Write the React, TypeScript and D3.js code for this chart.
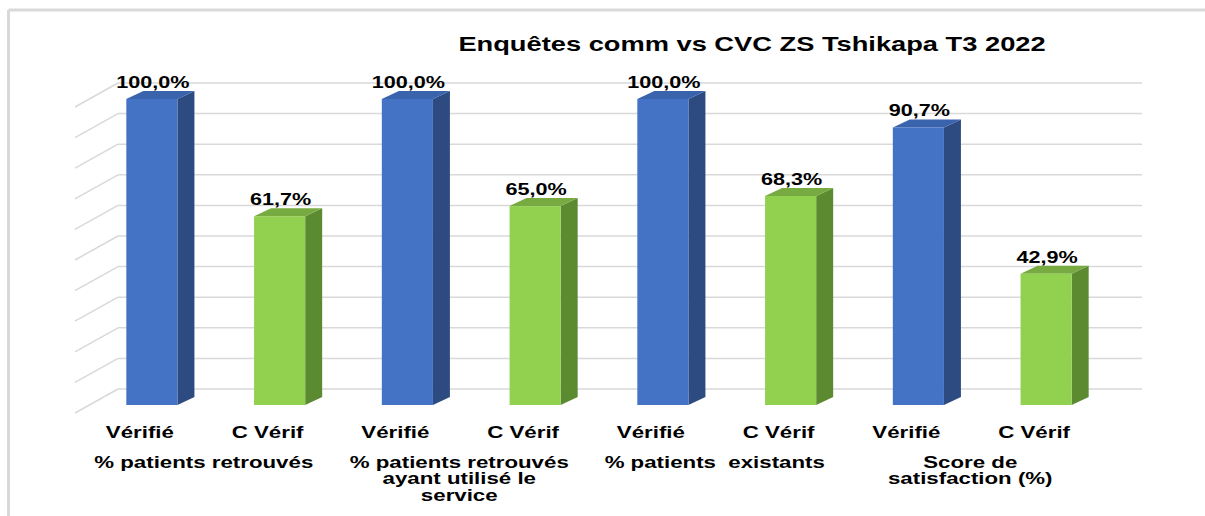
import React from "react";
import * as d3 from "d3";

const title = "Enquêtes comm vs CVC ZS Tshikapa T3 2022";
const groups = [
  ["% patients retrouvés"],
  ["% patients retrouvés", "ayant utilisé le", "service"],
  ["% patients  existants"],
  ["Score de", "satisfaction (%)"],
];
const series = ["Vérifié", "C Vérif"];
const verifie = [100.0, 100.0, 100.0, 90.7];
const cVerif = [61.7, 65.0, 68.3, 42.9];
const yTicks = [0, 10, 20, 30, 40, 50, 60, 70, 80, 90, 100];

const W = 1205;
const H = 516;
const SX = 1.35;

function SText(props: { x: number; y: number; size: number; children: React.ReactNode }) {
  return (
    <text
      transform={`translate(${props.x},${props.y}) scale(${SX},1)`}
      textAnchor="middle"
      fontSize={props.size}
      fontWeight="bold"
      fill="#000"
      style={{ whiteSpace: "pre" }}
    >
      {props.children}
    </text>
  );
}

export default function App() {
  const bars = groups.flatMap((g, gi) => [
    { id: `${gi}-0`, gi, si: 0, v: verifie[gi] },
    { id: `${gi}-1`, gi, si: 1, v: cVerif[gi] },
  ]);
  const x = d3
    .scaleBand<string>()
    .domain(bars.map((b) => b.id))
    .range([88, 1110])
    .paddingInner(0.6)
    .paddingOuter(0.3);
  const y = d3.scaleLinear().domain([0, 100]).range([405, 99]);
  const bdx = 17;
  const bdy = -8;
  const wallDy = -16;
  const wallLeft = 118;
  const wallRight = 1142;
  const sideFrontX = 75;
  const sideDy = 24;
  const labelShift = -12;
  const colors = [
    { front: "#4472C4", side: "#2D4B80", top: "#3A63AE" },
    { front: "#92D050", side: "#5C8A31", top: "#77AA40" },
  ];
  const font = "'Liberation Sans', Arial, sans-serif";

  return (
    <svg
      width={W}
      height={H}
      style={{ position: "absolute", left: 0, top: 0, background: "#fff" }}
      fontFamily={font}
    >
      {/* frame */}
      <line x1={8.5} y1={10} x2={W} y2={10} stroke="#d9d9d9" strokeWidth={3} />
      <line x1={8.5} y1={10} x2={8.5} y2={H} stroke="#d9d9d9" strokeWidth={3} />

      {/* back wall gridlines and side wall diagonals */}
      {yTicks.map((t) => {
        const yb = y(t) + wallDy;
        return (
          <g key={t}>
            <line x1={wallLeft} y1={yb} x2={wallRight} y2={yb} stroke="#d9d9d9" strokeWidth={1.5} />
            <line x1={sideFrontX} y1={yb + sideDy} x2={wallLeft} y2={yb} stroke="#d9d9d9" strokeWidth={1.5} />
          </g>
        );
      })}

      {/* title */}
      <SText x={752} y={51} size={20.2}>
        {title}
      </SText>

      {/* bars */}
      {bars.map((b) => {
        const x0 = x(b.id)!;
        const w = x.bandwidth();
        const yt = y(b.v);
        const yb = y(0);
        const c = colors[b.si];
        return (
          <g key={b.id}>
            <polygon
              points={`${x0 + w},${yt} ${x0 + w + bdx},${yt + bdy} ${x0 + w + bdx},${yb + bdy} ${x0 + w},${yb}`}
              fill={c.side}
            />
            <polygon
              points={`${x0},${yt} ${x0 + bdx},${yt + bdy} ${x0 + w + bdx},${yt + bdy} ${x0 + w},${yt}`}
              fill={c.top}
            />
            <rect x={x0} y={yt} width={w} height={yb - yt} fill={c.front} />
            <SText x={x0 + w / 2 + 1} y={yt + bdy - 3} size={16}>
              {b.v.toFixed(1).replace(".", ",") + "%"}
            </SText>
            <SText x={x0 + w / 2 + labelShift} y={438} size={16.5}>
              {series[b.si]}
            </SText>
          </g>
        );
      })}

      {/* group labels */}
      {groups.map((lines, gi) => {
        const cx = (x(`${gi}-0`)! + x(`${gi}-1`)! + x.bandwidth()) / 2 + labelShift;
        return (
          <g key={gi}>
            {lines.map((l, li) => (
              <SText key={li} x={cx} y={468 + li * 16.3} size={16.5}>
                {l}
              </SText>
            ))}
          </g>
        );
      })}
    </svg>
  );
}
